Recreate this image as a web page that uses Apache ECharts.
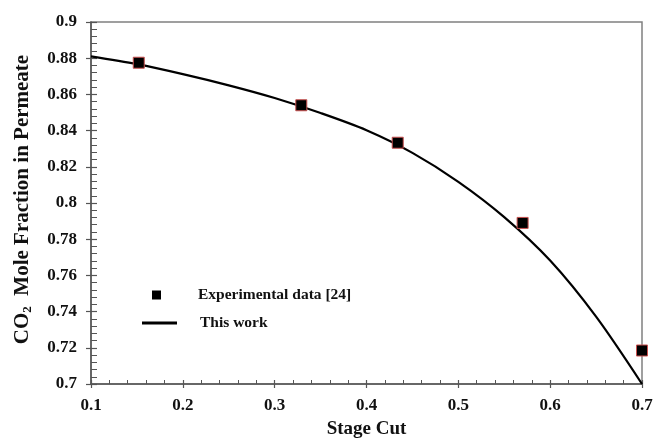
<!DOCTYPE html>
<html>
<head>
<meta charset="utf-8">
<script src="https://cdn.jsdelivr.net/npm/echarts@6/dist/echarts.min.js"></script>
<style>html,body{margin:0;padding:0;background:#fff}#c{width:655px;height:439px}</style>
</head>
<body>
<div id="c"></div>
<script>
// Experimental data [24]
const expX = [0.152, 0.329, 0.434, 0.570, 0.700];
const expY = [0.8775, 0.854, 0.8333, 0.789, 0.7185];
// This work (model curve)
const modelX = [0.10, 0.15, 0.20, 0.25, 0.30, 0.35, 0.40, 0.45, 0.50, 0.55, 0.60, 0.65, 0.70];
const modelY = [0.881, 0.8767, 0.8712, 0.865, 0.858, 0.8497, 0.8402, 0.8277, 0.8117, 0.7922, 0.7682, 0.7372, 0.700];
const xTicks = [0.1, 0.2, 0.3, 0.4, 0.5, 0.6, 0.7];
const yTicks = [0.7, 0.72, 0.74, 0.76, 0.78, 0.8, 0.82, 0.84, 0.86, 0.88, 0.9];

const FONT = '"Liberation Serif", "Times New Roman", serif';
const chart = echarts.init(document.getElementById('c'), null, {renderer: 'canvas'});
const fmt = v => String(+(+v).toFixed(2));
const axisCol = '#555';

const xBase = {
  type: 'value', min: xTicks[0], max: xTicks[xTicks.length - 1], interval: 0.1,
  splitLine: {show: false}, position: 'bottom'
};
const yBase = {
  type: 'value', min: yTicks[0], max: yTicks[yTicks.length - 1], interval: 0.02,
  splitLine: {show: false}, position: 'left'
};

chart.setOption({
  animation: false,
  backgroundColor: '#fff',
  grid: {left: 91, right: 13, top: 22, bottom: 55, show: true, borderColor: '#808080', borderWidth: 1.5,
    containLabel: false, outerBoundsMode: 'none'},
  legend: [
    {
      data: ['Experimental data [24]'], left: 152, top: 287, icon: 'rect', padding: 0,
      itemWidth: 9, itemHeight: 9,
      itemStyle: {borderWidth: 0, color: '#000'},
      textStyle: {fontFamily: FONT, fontWeight: 'bold', fontSize: 15.5, color: '#111', padding: [0, 0, 0, 32]}
    },
    {
      data: [{name: 'This work', icon: 'rect'}], left: 142, top: 315, padding: 0,
      itemWidth: 35, itemHeight: 3,
      itemStyle: {color: '#000'},
      textStyle: {fontFamily: FONT, fontWeight: 'bold', fontSize: 15.5, color: '#111', padding: [0, 0, 0, 18]}
    }
  ],
  xAxis: [
    Object.assign({}, xBase, {
      name: 'Stage Cut', nameLocation: 'middle', nameGap: 36,
      nameTextStyle: {fontFamily: FONT, fontWeight: 'bold', fontSize: 19, color: '#111'},
      axisLine: {show: true, onZero: false, lineStyle: {color: axisCol, width: 1.5}},
      axisTick: {show: true, inside: false, length: 4, lineStyle: {color: axisCol, width: 1.2}},
      axisLabel: {margin: 13, formatter: fmt, fontFamily: FONT, fontWeight: 'bold', fontSize: 17, color: '#111'}
    }),
    Object.assign({}, xBase, {
      axisLine: {show: false, onZero: false},
      axisTick: {show: true, inside: true, length: 4, lineStyle: {color: axisCol, width: 1.2}},
      minorTick: {show: true, splitNumber: 5, length: 4, lineStyle: {color: axisCol, width: 1}},
      axisLabel: {show: false}
    })
  ],
  yAxis: [
    Object.assign({}, yBase, {
      name: 'CO{sub|2}  Mole Fraction in Permeate', nameLocation: 'middle', nameGap: 57,
      nameTextStyle: {fontFamily: FONT, fontWeight: 'bold', fontSize: 21, color: '#111',
        padding: [0, 0, 0, 7],
        rich: {sub: {fontFamily: FONT, fontWeight: 'bold', fontSize: 13, color: '#111', verticalAlign: 'bottom', padding: [10, 0, 0, 0]}}},
      axisLine: {show: true, onZero: false, lineStyle: {color: axisCol, width: 1.5}},
      axisTick: {show: true, inside: false, length: 5, lineStyle: {color: axisCol, width: 1.2}},
      axisLabel: {margin: 14, formatter: fmt, fontFamily: FONT, fontWeight: 'bold', fontSize: 17, color: '#111'}
    }),
    Object.assign({}, yBase, {
      axisLine: {show: false, onZero: false},
      axisTick: {show: true, inside: true, length: 6, lineStyle: {color: axisCol, width: 1.2}},
      minorTick: {show: true, splitNumber: 5, length: 6, lineStyle: {color: axisCol, width: 1}},
      axisLabel: {show: false}
    })
  ],
  series: [
    {
      name: 'This work', type: 'line', smooth: 0.3, symbol: 'none', clip: false,
      data: modelX.map((x, i) => [x, modelY[i]]),
      lineStyle: {color: '#000', width: 2.2},
      itemStyle: {color: '#000'},
      z: 3
    },
    {
      name: 'Experimental data [24]', type: 'scatter', symbol: 'rect', symbolSize: 11, clip: false,
      data: expX.map((x, i) => [x, expY[i]]),
      itemStyle: {color: '#000', borderColor: '#c9504f', borderWidth: 1, opacity: 1},
      z: 4
    }
  ]
});
</script>
</body>
</html>
